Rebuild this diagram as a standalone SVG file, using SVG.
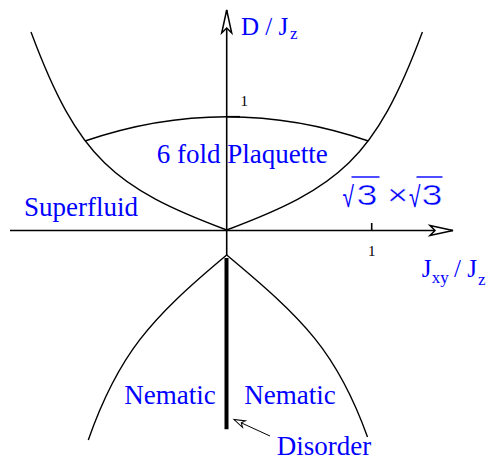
<svg xmlns="http://www.w3.org/2000/svg" width="491" height="460" viewBox="0 0 491 460">
<style>
.ax{stroke:#000;stroke-width:1.6;fill:none}
.cv{stroke:#000;stroke-width:1.4;fill:none}
.lbl{font-family:"Liberation Serif","Times New Roman",serif;fill:#0000ff;font-size:27px}
.axl{font-family:"Liberation Serif","Times New Roman",serif;fill:#0000ff;font-size:25px}
.sub{font-size:17px}
.num{font-family:"Liberation Serif","Times New Roman",serif;fill:#000;font-size:15px;text-anchor:middle}
.sq{font-family:"Liberation Sans",Arial,sans-serif;fill:#0000ff;font-size:29px}
.thin{stroke:#fff;stroke-width:0.5}
</style>
<defs>
<marker id="bigArrow" markerUnits="userSpaceOnUse" viewBox="-26 -7 28 14" markerWidth="28" markerHeight="14" refX="0" refY="0" orient="auto" overflow="visible">
<path d="M-23,-5 L0,0 L-23,5 L-18,0 Z" fill="#fff" stroke="#000" stroke-width="1.5"/>
</marker>
<marker id="smallArrow" markerUnits="userSpaceOnUse" viewBox="-13 -5 15 10" markerWidth="15" markerHeight="10" refX="0" refY="0" orient="auto" overflow="visible">
<path d="M-11,-3.5 L0,0 L-11,3.5 L-8,0 Z" fill="#fff" stroke="#000" stroke-width="1"/>
</marker>
</defs>

<g id="connectors">
<path id="y-axis" class="ax" d="M226.7,255 V10" marker-end="url(#bigArrow)"/>
<path id="x-axis" class="ax" d="M10,230.5 H453" marker-end="url(#bigArrow)"/>
<path id="x-tick" class="ax" d="M371.7,223 V230.5" stroke-width="1"/>
<path id="y-tick" class="ax" d="M226.7,116.7 H240" stroke-width="1"/>
<path id="left-outer" class="cv" d="M31,32 C78.3,158.9 114.4,187.9 226.7,230"/>
<path id="right-outer" class="cv" d="M422.4,32 C375.1,158.9 339,187.9 226.7,230"/>
<path id="plaquette-arc" class="cv" d="M85,141 Q226.7,92.4 368.4,141"/>
<path id="left-bottom" class="cv" d="M226.7,255 C149.9,319 118,355 88.3,440"/>
<path id="right-bottom" class="cv" d="M226.7,255 C303.5,319 337,352 367.5,437"/>
<path id="disorder-line" d="M226.5,258 V429.3" stroke="#000" stroke-width="4"/>
<path id="disorder-arrow" d="M270,436 L234,419.5" stroke="#000" stroke-width="1" fill="none" marker-end="url(#smallArrow)"/>
</g>

<g id="axis-labels">
<text class="axl" x="241" y="34.5">D / J<tspan class="sub" x="290" y="38.5">z</tspan></text>
<text class="axl" x="421.7" y="276.7">J<tspan class="sub" x="431.7" y="283">xy</tspan><tspan x="454" y="276.7">/ J</tspan><tspan class="sub" x="478" y="285">z</tspan></text>
<text class="num" x="244.3" y="106">1</text>
<text class="num" x="371.7" y="255.5">1</text>
</g>

<g id="plaquette"><text class="lbl" x="156.7" y="162.7">6 fold Plaquette</text></g>
<g id="superfluid"><text class="lbl" x="24" y="215.7">Superfluid</text></g>
<g id="sqrt3">
<text class="sq" transform="translate(342.5,207) scale(0.72,1)">√</text>
<text class="sq" transform="translate(409,207) scale(0.72,1)">√</text>
<line x1="351.5" y1="177" x2="379.5" y2="177" stroke="#0000ff" stroke-width="1.4"/>
<line x1="416.5" y1="177" x2="442.5" y2="177" stroke="#0000ff" stroke-width="1.4"/>
<text class="sq thin" transform="translate(356.5,205) scale(1.3,1.02)">3</text>
<text class="sq thin" transform="translate(387,205) scale(1.25,1)">×</text>
<text class="sq thin" transform="translate(421.5,205) scale(1.3,1.02)">3</text>
</g>
<g id="nematic-left"><text class="lbl" x="124.3" y="404">Nematic</text></g>
<g id="nematic-right"><text class="lbl" x="244.3" y="404">Nematic</text></g>
<g id="disorder"><text class="lbl" x="276.7" y="454.5">Disorder</text></g>
</svg>
